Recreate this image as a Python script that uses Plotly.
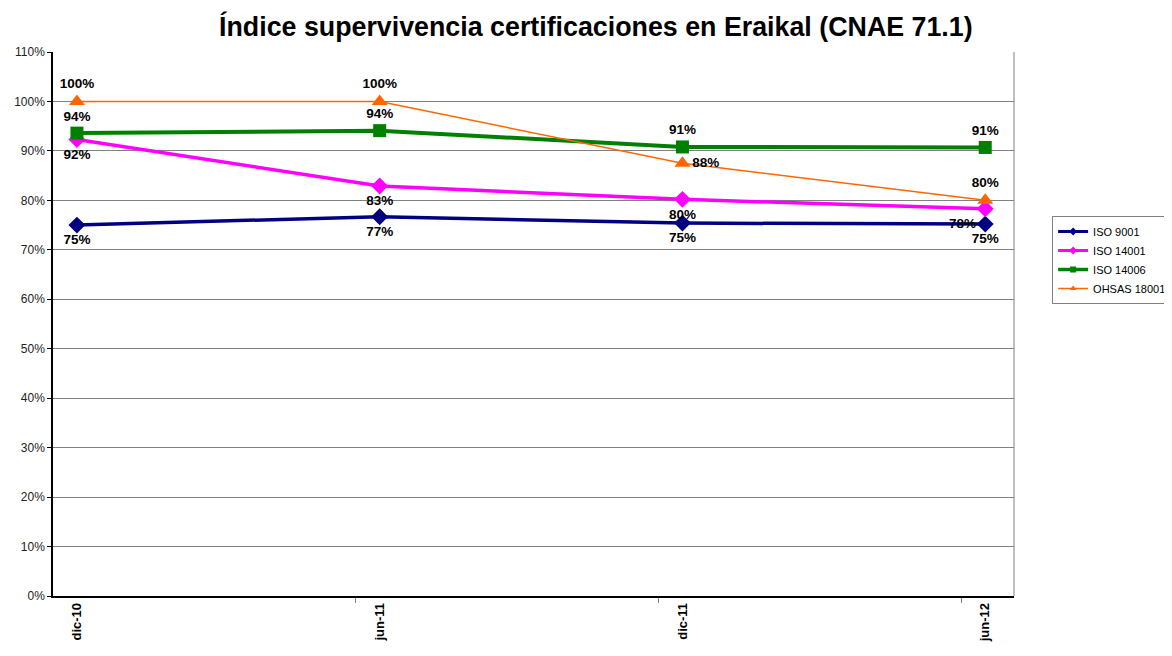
import plotly.graph_objects as go

categories = ["dic-10", "jun-11", "dic-11", "jun-12"]
iso9001 = [75.0, 76.7, 75.4, 75.2]
iso14001 = [92.3, 82.9, 80.2, 78.3]
iso14006 = [93.6, 94.1, 90.8, 90.7]
ohsas18001 = [100.0, 100.0, 87.5, 80.0]
y_ticks = [0, 10, 20, 30, 40, 50, 60, 70, 80, 90, 100, 110]

xpos = list(range(len(categories)))

def labels(vals):
    return [f"{round(v):.0f}%" for v in vals]

series = [
    dict(name="ISO 9001", y=iso9001, color="#000080", width=3.5, symbol="diamond", size=13,
         lw=3, lsize=6, pos=["bottom center"] * 4),
    dict(name="ISO 14001", y=iso14001, color="#FF00FF", width=3.5, symbol="diamond", size=13,
         lw=3, lsize=6, pos=["bottom center", "bottom center", "bottom center", "bottom left"]),
    dict(name="ISO 14006", y=iso14006, color="#008000", width=4, symbol="square", size=13,
         lw=3.5, lsize=6, pos=["top center"] * 4),
    dict(name="OHSAS 18001", y=ohsas18001, color="#FF6600", width=1.5, symbol="triangle-up", size=14,
         lw=1.5, lsize=6, pos=["top center", "top center", "middle right", "top center"]),
]

fig = go.Figure()
for s in series:
    fig.add_trace(go.Scatter(
        x=xpos, y=s["y"], name=s["name"], mode="lines+markers+text",
        line=dict(color=s["color"], width=s["width"]),
        marker=dict(color=s["color"], symbol=s["symbol"], size=s["size"]),
        text=labels(s["y"]), textposition=s["pos"],
        textfont=dict(family="Arial, Liberation Sans", size=13.5, color="black", weight="bold"),
        cliponaxis=False, showlegend=False,
    ))
# legend entries with small markers, as in the original
for s in series:
    fig.add_trace(go.Scatter(
        x=[None], y=[None], name=s["name"], mode="lines+markers",
        line=dict(color=s["color"], width=s["lw"]),
        marker=dict(color=s["color"], symbol=s["symbol"], size=s["lsize"]),
        showlegend=True,
    ))

fig.update_layout(
    width=1164, height=648,
    paper_bgcolor="white", plot_bgcolor="white",
    margin=dict(l=45, r=158, t=44, b=60, autoexpand=False),
    font=dict(family="Arial, Liberation Sans", color="black"),
    title=dict(text="<b>Índice supervivencia certificaciones en Eraikal (CNAE 71.1)</b>",
               x=0.505, xref="container", xanchor="center", y=0.972, yanchor="middle",
               font=dict(size=26.8, color="black")),
    legend=dict(x=0.897, y=0.679, xref="container", yref="container",
                xanchor="left", yanchor="top",
                bordercolor="#808080", borderwidth=1,
                font=dict(size=11)),
    xaxis=dict(
        range=[-0.079, 3.095], tickmode="array", tickvals=xpos, ticktext=categories,
        tickangle=-90, tickfont=dict(size=13, weight="bold"), ticks="",
        showgrid=False, zeroline=False, showline=True, linecolor="black", linewidth=1.5,
        mirror=False, automargin=False,
        minor=dict(tickmode="array", tickvals=[0.921, 1.921, 2.921], ticks="outside",
                   ticklen=5, tickcolor="#808080", showgrid=False),
    ),
    yaxis=dict(
        range=[0, 110], tickmode="array", tickvals=y_ticks,
        ticktext=[f"{v}%" for v in y_ticks], tickfont=dict(size=12, color="#222222"),
        ticks="outside", ticklen=4, tickcolor="black", automargin=False,
        showgrid=True, gridcolor="#808080", gridwidth=1,
        zeroline=False, showline=True, linecolor="black", linewidth=1.5,
    ),
)
fig.add_shape(type="line", xref="paper", yref="paper", x0=1, x1=1, y0=0, y1=1,
              line=dict(color="#808080", width=1))

fig.write_html("out.html")
